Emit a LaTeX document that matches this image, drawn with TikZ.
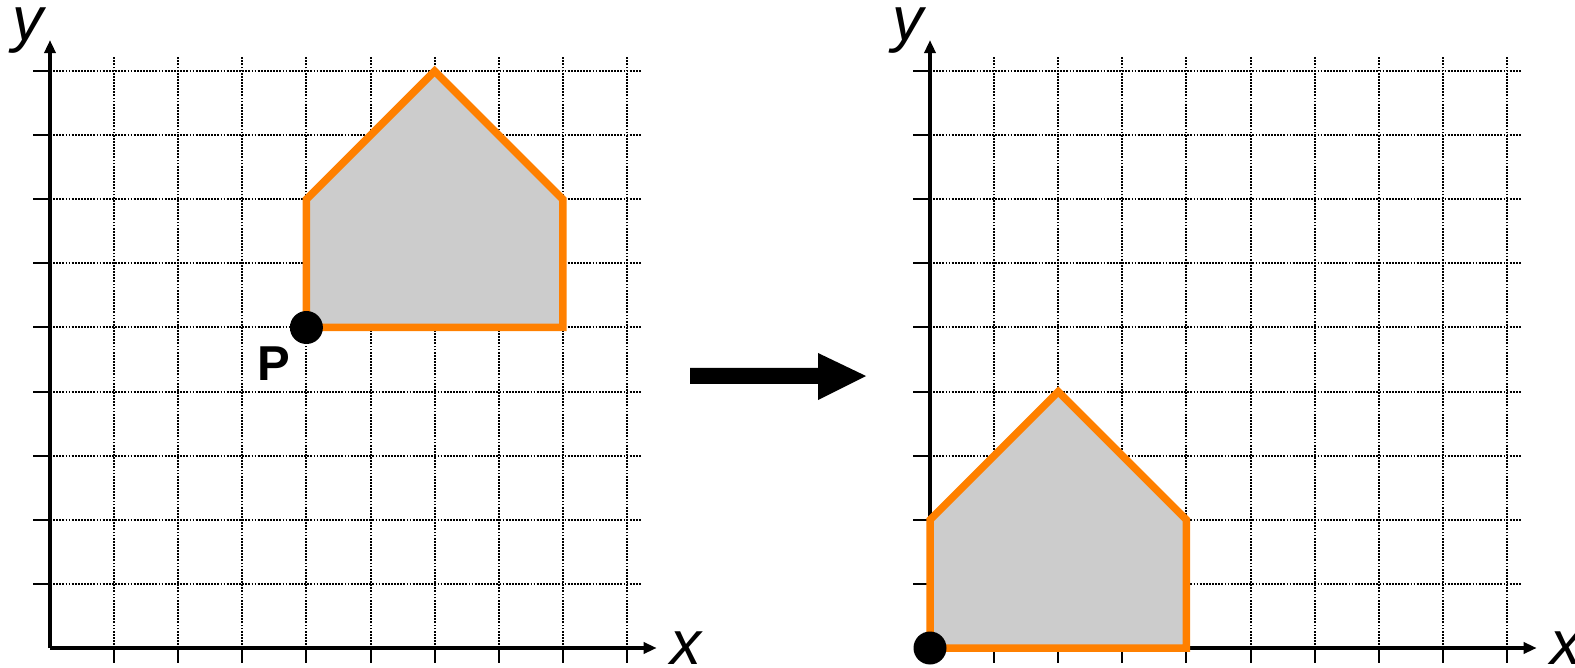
\documentclass[tikz,border=0pt]{standalone}
\usepackage{fontspec}
\setmainfont{Liberation Sans}
\usetikzlibrary{arrows.meta}
\definecolor{shapeorange}{HTML}{FF8000}
\definecolor{shapegray}{HTML}{CCCCCC}
\tikzset{
  gridline/.style={line width=2pt, dash pattern=on 1.8pt off 1.3pt, black},
  tickline/.style={line width=2pt, black},
  axisline/.style={line width=4pt, -{Triangle[length=13pt,width=11pt]}},
  house/.style={draw=shapeorange, fill=shapegray, line width=7.5pt, line join=miter},
  dotnode/.style={circle, fill=black, minimum size=33pt, inner sep=0pt},
  axislabel/.style={font=\fontsize{62}{62}\selectfont\itshape, inner sep=0pt},
}
\newcommand{\coordpanel}{%
  \foreach \i in {1,...,9} {
    \draw[gridline] (\i,0) -- (\i,9.22);
    \draw[gridline] (0,\i) -- (9.23,\i);
    \draw[tickline] (\i,0) -- (\i,-0.235);
    \draw[tickline] (0,\i) -- (-0.265,\i);
  }
  \draw[axisline] (0,0) -- (9.465,0);
  \draw[axisline] (0,0) -- (0,9.485);
}
\begin{document}
\begin{tikzpicture}[x=1pt,y=-1pt]
\useasboundingbox (0,0) rectangle (1575,668);
% left panel
\begin{scope}[shift={(50,648)}, x=64.1pt, y=64.1pt]
  \coordpanel
  \draw[house] (4,5) -- (8,5) -- (8,7) -- (6,9) -- (4,7) -- cycle;
  \node[dotnode] (P) at (4,5) {};
\end{scope}
\node[font=\fontsize{49}{49}\selectfont\bfseries, inner sep=0pt] (Plabel) at (274,364) {P};
\node[axislabel, anchor=base] (yL) at (28,41) {y};
\node[axislabel, anchor=base] (xL) at (686,664) {x};
% arrow
\fill (690,368) -- (818,368) -- (818,353) -- (866,376) -- (818,400) -- (818,384) -- (690,384) -- cycle;
% right panel
\begin{scope}[shift={(930,648)}, x=64.1pt, y=64.1pt]
  \coordpanel
  \draw[house] (0,0) -- (4,0) -- (4,2) -- (2,4) -- (0,2) -- cycle;
  \node[dotnode] (O) at (0,0) {};
\end{scope}
\node[axislabel, anchor=base] (yR) at (908,41) {y};
\node[axislabel, anchor=base] (xR) at (1566,664) {x};
\end{tikzpicture}
\end{document}
